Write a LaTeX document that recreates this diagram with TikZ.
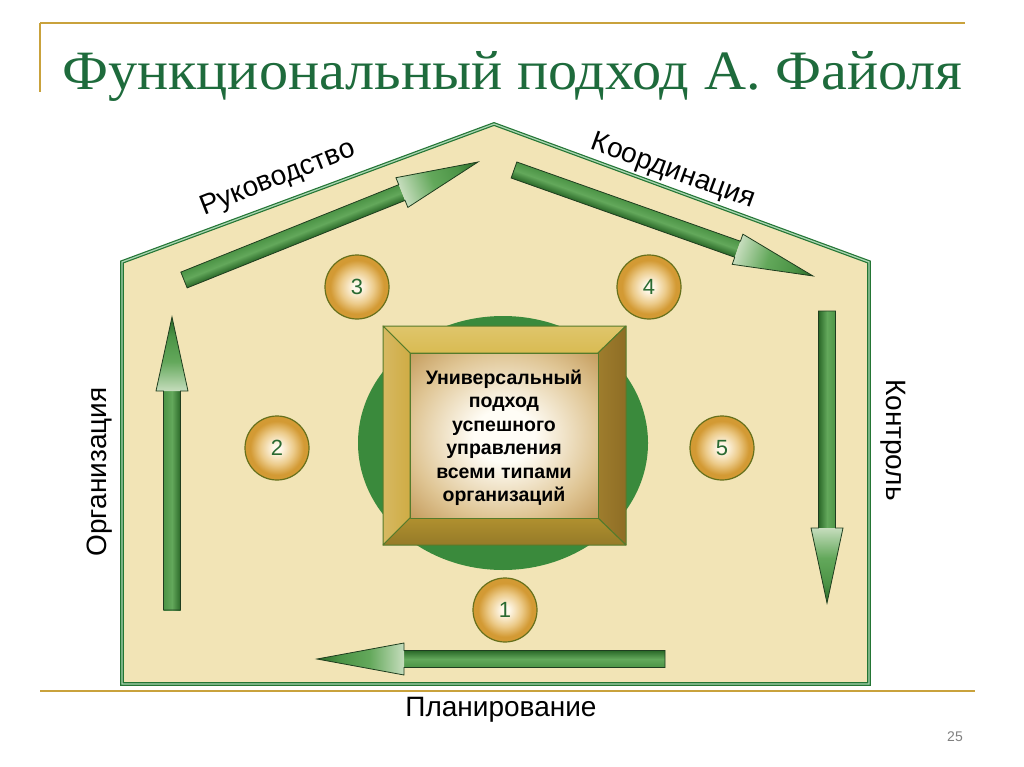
\documentclass[tikz,border=0pt]{standalone}
\usepackage{fontspec}
\setmainfont{Liberation Sans}
\newfontfamily\titlefont{Liberation Serif}
\definecolor{goldline}{HTML}{C9A23C}
\definecolor{titlegreen}{HTML}{1E6B3C}
\definecolor{housefill}{HTML}{F2E4B6}
\definecolor{housegreen}{HTML}{237534}
\definecolor{housegap}{HTML}{A9D4B0}
\definecolor{discgreen}{HTML}{3A8A3C}
\definecolor{adark}{HTML}{2A6828}
\definecolor{amid}{HTML}{4C9446}
\definecolor{alite}{HTML}{63A85B}
\definecolor{alight}{HTML}{C6DDBD}
\definecolor{aline}{HTML}{1F3D1F}
\definecolor{ballc}{HTML}{FFF9EC}
\definecolor{ballm}{HTML}{ECCB8A}
\definecolor{ballo}{HTML}{D39A34}
\definecolor{ballline}{HTML}{66701C}
\definecolor{numgreen}{HTML}{2A6A32}
\definecolor{ftop}{HTML}{D9BB52}
\definecolor{fleft}{HTML}{CFAC45}
\definecolor{fright}{HTML}{8E6D25}
\definecolor{fbottom}{HTML}{B0902F}
\definecolor{frameline}{HTML}{557B2B}
\definecolor{panc}{HTML}{FFFDF6}
\definecolor{pane}{HTML}{DFC594}
\definecolor{panee}{HTML}{C39A5A}
\pgfdeclareradialshading{ballshade}{\pgfpoint{0bp}{0bp}}{color(0bp)=(ballc); color(3bp)=(ballc); color(13bp)=(ballm); color(21bp)=(ballo); color(50bp)=(ballo)}
\pgfdeclareradialshading{panelshade}{\pgfpoint{0bp}{0bp}}{color(0bp)=(panc); color(8bp)=(panc); color(25bp)=(pane); color(36bp)=(panee); color(50bp)=(panee)}
\pgfdeclarehorizontalshading{headshade}{100bp}{color(0bp)=(alight); color(25bp)=(alight); color(45bp)=(alite); color(62bp)=(amid); color(75bp)=(adark); color(100bp)=(adark)}
\newcommand\greenarrow[4]{% tail, angle, length, head length
  \begin{scope}[transform canvas={shift={(#1)},rotate=#2}]
    \path[top color=amid, bottom color=adark, middle color=alite]
      (0,-8.5) rectangle (#3-#4,8.5);
    \path[shading=headshade]
      (#3-#4,-16) -- (#3,0) -- (#3-#4,16) -- cycle;
    \draw[aline, line width=0.8pt, line join=miter]
      (0,-8.5) -- (#3-#4,-8.5) -- (#3-#4,-16) -- (#3,0) -- (#3-#4,16) -- (#3-#4,8.5) -- (0,8.5) -- cycle;
  \end{scope}}
\tikzset{
  gline/.style={goldline, line width=2pt},
  ball/.style={circle, minimum size=64pt, inner sep=0pt, draw=ballline, line width=1.2pt,
    shading=ballshade, text=numgreen, font=\fontsize{22}{22}\selectfont},
  lbl/.style={font=\fontsize{28}{28}\selectfont, text=black, inner sep=0pt},
  face/.style={draw=frameline, line width=1pt, line join=round}
}
\begin{document}
\begin{tikzpicture}[x=1pt,y=-1pt]
\useasboundingbox (0,0) rectangle (1024,767);
\fill[white] (0,0) rectangle (1024,767);
% gold rules
\draw[gline] (40,23) -- (965,23);
\draw[gline] (40,23) -- (40,92);
\draw[gline] (40,691) -- (975,691);
% title
\node[anchor=base west, inner sep=0pt, text=titlegreen] (title) at (62,90)
  {\resizebox{900pt}{38pt}{\titlefont Функциональный подход А. Файоля}};
% house
\coordinate (hbl) at (122,684);
\coordinate (htl) at (122,262);
\coordinate (hap) at (494,124);
\coordinate (htr) at (869,262);
\coordinate (hbr) at (869,684);
\draw[fill=housefill, draw=housegreen, line width=1.2pt, double=housegap, double distance=1.3pt, line join=miter]
  (hbl) -- (htl) -- (hap) -- (htr) -- (hbr) -- cycle;
% disc
\fill[discgreen] (503,443) ellipse [x radius=145, y radius=127];
% frame
\coordinate (o1) at (383,326); \coordinate (o2) at (626,326);
\coordinate (o3) at (626,545); \coordinate (o4) at (383,545);
\coordinate (i1) at (410,353); \coordinate (i2) at (598,353);
\coordinate (i3) at (598,518); \coordinate (i4) at (410,518);
\path[face, top color=ftop!85!white, bottom color=ftop] (o1) -- (o2) -- (i2) -- (i1) -- cycle;
\path[face, left color=fleft!85!white, right color=fleft] (o4) -- (o1) -- (i1) -- (i4) -- cycle;
\path[face, left color=fright!75!fleft, right color=fright] (o2) -- (o3) -- (i3) -- (i2) -- cycle;
\path[face, top color=fbottom, bottom color=fbottom!85!black] (o3) -- (o4) -- (i4) -- (i3) -- cycle;
\path[face, shading=panelshade] (i1) rectangle (i3);
\node[align=center, font=\bfseries\fontsize{19.5}{23.5}\selectfont, text=black] (ctext) at (504,438)
  {Универсальный\\подход\\успешного\\управления\\всеми типами\\организаций};
% numbered balls
\node[ball] (n1) at (505,610) {1};
\node[ball] (n2) at (277,448) {2};
\node[ball] (n3) at (357,287) {3};
\node[ball] (n4) at (649,287) {4};
\node[ball] (n5) at (722,448) {5};
% block arrows
\greenarrow{184,280}{21.87}{316.8}{82}
\greenarrow{514,170}{-19.52}{317.2}{80}
\greenarrow{827,311}{-90}{292}{75}
\greenarrow{665,659}{180}{348}{87}
\greenarrow{172,610}{90}{293}{74}
% labels
\node[lbl, rotate=21.5] (lruk) at (278,179) {Руководство};
\node[lbl, rotate=-20] (lkoo) at (673,172) {Координация};
\node[lbl, rotate=90] (lorg) at (100,472) {Организация};
\node[lbl, rotate=-90] (lkon) at (893,440) {Контроль};
\node[lbl] (lpla) at (501,710) {Планирование};
\node[font=\fontsize{14}{14}\selectfont, text=black!50] (pnum) at (955,737) {25};
\end{tikzpicture}
\end{document}
